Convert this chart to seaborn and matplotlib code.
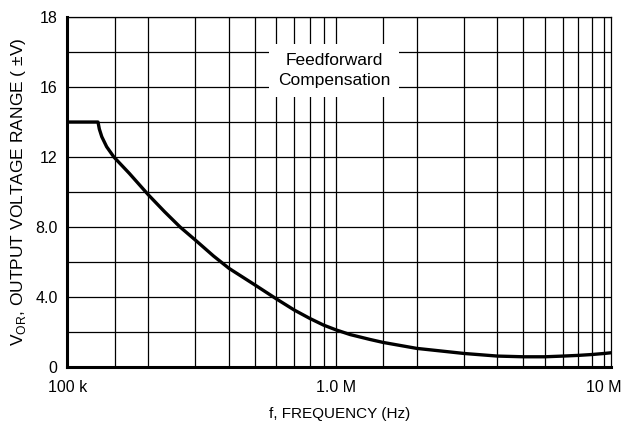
import pandas as pd
import seaborn as sns
import matplotlib.pyplot as plt
from matplotlib.ticker import LogLocator, NullFormatter, FixedLocator

# data (feedforward compensation)
freq_hz = [1.0e5, 1.3e5, 1.315e5, 1.343e5, 1.40e5, 1.49e5, 1.7e5, 2.0e5, 2.3e5,
           2.63e5, 3.0e5, 3.5e5, 4.0e5, 5.0e5, 6.0e5, 7.0e5, 8.0e5, 9.0e5,
           1.0e6, 1.13e6, 1.34e6, 1.5e6, 2.0e6, 3.0e6, 4.0e6, 5.0e6, 6.0e6,
           7.0e6, 8.0e6, 9.0e6, 1.0e7, 1.06e7]
v_or = [14.0, 14.0, 13.6, 13.16, 12.59, 12.0, 11.07, 9.85, 8.88,
        8.0, 7.25, 6.35, 5.64, 4.69, 3.9, 3.26, 2.78, 2.4,
        2.13, 1.86, 1.58, 1.41, 1.07, 0.78, 0.63, 0.59, 0.59,
        0.63, 0.67, 0.72, 0.78, 0.82]

y_ticks = [0, 4, 8, 12, 16, 20]
y_ticklabels = ['0', '4.0', '8.0', '12', '16', '18']
x_ticks = [1e5, 1e6, 1e7]
x_ticklabels = ['100 k', '1.0 M', '10 M']

df = pd.DataFrame({'f': freq_hz, 'V': v_or})

sns.set_style("white")
plt.rcParams['font.family'] = ['Liberation Sans', 'DejaVu Sans']
plt.rcParams['text.color'] = 'black'
plt.rcParams['axes.labelcolor'] = 'black'
plt.rcParams['xtick.color'] = 'black'
plt.rcParams['ytick.color'] = 'black'

fig = plt.figure(figsize=(6.3, 4.36), dpi=100)
ax = fig.add_axes([0.107, 0.158, 0.863, 0.803])

sns.lineplot(data=df, x='f', y='V', color='black', linewidth=2.4, ax=ax, zorder=5)

ax.set_xscale('log')
ax.set_xlim(1e5, 1.06e7)
ax.set_ylim(0, 20)

# grid: 1.5, 2..9 per decade (datasheet style) and every 2 V
ax.xaxis.set_major_locator(FixedLocator(x_ticks))
ax.xaxis.set_minor_locator(LogLocator(base=10, subs=[1.5, 2, 3, 4, 5, 6, 7, 8, 9]))
ax.xaxis.set_minor_formatter(NullFormatter())
ax.set_xticks(x_ticks)
ax.set_xticklabels(x_ticklabels)
ax.set_yticks(y_ticks)
ax.set_yticklabels(y_ticklabels)
ax.set_yticks(range(0, 21, 2), minor=True)
ax.grid(True, which='both', color='black', linewidth=0.9)
ax.set_axisbelow(True)
ax.tick_params(which='both', length=0, labelsize=11.5)
ax.tick_params(axis='x', pad=9)
ax.tick_params(axis='y', pad=7)

for s in ['top', 'right']:
    ax.spines[s].set_color('black')
    ax.spines[s].set_linewidth(0.9)
for s in ['left', 'bottom']:
    ax.spines[s].set_color('black')
    ax.spines[s].set_linewidth(2.2)
    ax.spines[s].set_zorder(6)

ax.set_xlabel('f, FREQUENCY (Hz)', fontsize=11, labelpad=9)
ax.set_ylabel(r'V$_{\mathregular{OR}}$, OUTPUT VOLTAGE RANGE ( ±V)', fontsize=12.5, labelpad=5)

ax.text(9.86e5, 16.94, 'Feedforward\nCompensation', ha='center', va='center',
        fontsize=12.5, linespacing=1.4, zorder=4,
        bbox=dict(boxstyle='square,pad=0.5', facecolor='white', edgecolor='none'))

plt.savefig('out.png', dpi=100)
